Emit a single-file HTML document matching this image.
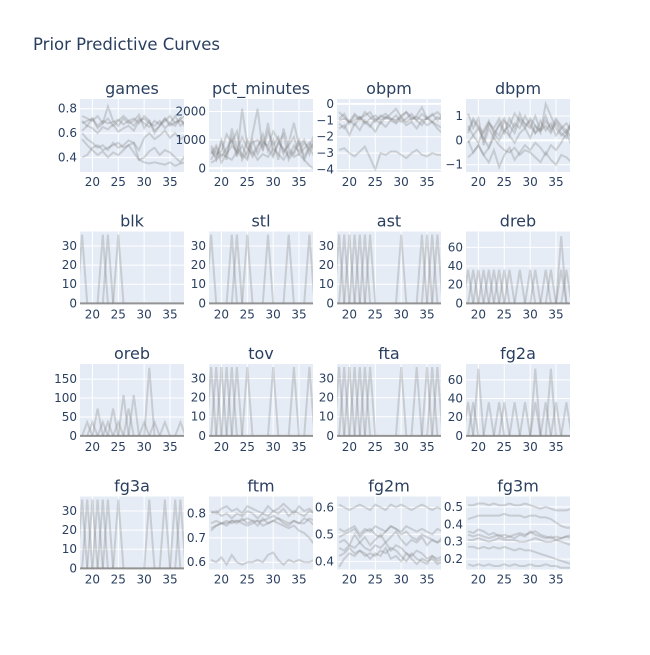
<!DOCTYPE html>
<html><head><meta charset="utf-8">
<style>
body{margin:0;background:#fff;}
svg text{font-family:"DejaVu Sans","Liberation Sans",sans-serif;fill:#2a3f5f;}
</style></head>
<body>
<svg id="chart" width="650" height="650" viewBox="0 0 650 650" xmlns="http://www.w3.org/2000/svg">
<text x="33" y="50" font-size="16.5">Prior Predictive Curves</text>
</svg>
<script>
const ages = [18,19,20,21,22,23,24,25,26,27,28,29,30,31,32,33,34,35,36,37,38];
const panelNames = ["games","pct_minutes","obpm","dbpm","blk","stl","ast","dreb","oreb","tov","fta","fg2a","fg3a","ftm","fg2m","fg3m"];
const yRanges = [[0.28,0.88],[-130,2440],[-4.15,0.3],[-1.3,1.7],[-0.6,37.6],[-0.6,37.6],[-0.6,37.6],[-1.2,77],[-3,190],[-0.6,37.6],[-0.6,37.6],[-1.2,77],[-0.6,37.6],[0.57,0.87],[0.37,0.64],[0.14,0.56]];
const yTicks = [[0.4,0.6,0.8],[0,1000,2000],[-4,-3,-2,-1,0],[-1,0,1],[0,10,20,30],[0,10,20,30],[0,10,20,30],[0,20,40,60],[0,50,100,150],[0,10,20,30],[0,10,20,30],[0,20,40,60],[0,10,20,30],[0.6,0.7,0.8],[0.4,0.5,0.6],[0.2,0.3,0.4,0.5]];
const xTicks = [20,25,30,35];

const gamesSeries = [
[.68,.70,.72,.66,.70,.68,.69,.71,.67,.70,.66,.72,.68,.65,.70,.67,.72,.66,.69,.70,.68],
[.70,.66,.72,.64,.68,.82,.70,.66,.72,.68,.70,.75,.64,.70,.60,.66,.72,.68,.74,.66,.70],
[.62,.66,.64,.60,.65,.63,.67,.61,.64,.66,.62,.70,.72,.68,.66,.70,.64,.68,.66,.72,.64],
[.60,.55,.52,.48,.50,.46,.52,.48,.50,.54,.52,.46,.56,.60,.55,.58,.62,.56,.60,.55,.58],
[.55,.50,.46,.42,.45,.40,.44,.42,.46,.50,.44,.38,.40,.45,.48,.42,.46,.44,.40,.36,.42],
[.40,.42,.48,.50,.46,.48,.50,.52,.48,.50,.52,.38,.36,.35,.36,.35,.34,.36,.33,.35,.36],
[.74,.72,.70,.74,.68,.72,.66,.70,.74,.70,.72,.68,.74,.70,.62,.66,.70,.74,.68,.72,.74]];
const minutesSeries = [
[600,400,900,300,1400,700,500,300,900,1000,700,1600,500,900,1200,300,600,1000,400,800,1200],
[300,700,200,500,1100,400,2100,800,400,700,1200,600,1000,300,1400,700,500,900,300,700,900],
[800,500,600,1200,900,1300,300,600,1000,500,900,800,1300,1000,600,800,1100,500,700,900,600],
[200,300,500,400,300,600,400,1000,600,300,500,400,700,500,300,600,400,500,300,100,-50],
[500,800,400,700,1000,500,800,400,1200,2100,600,1300,800,1100,500,900,1600,800,1000,500,1100],
[700,300,1000,500,800,600,1100,700,500,800,1000,700,400,900,700,400,800,600,900,700,400]];
const obpmSeries = [
[-.9,-.6,-1.2,-.7,-1.0,-.5,-.8,-1.1,-.7,-.9,-.6,-.3,-.8,-.5,-1.0,-.7,-.2,-.9,-.6,-1.0,-.7],
[-1.2,-1.5,-1.0,-1.3,-.8,-1.1,-1.4,-.9,-1.2,-.8,-1.0,-.7,-1.1,-.9,-.6,-1.0,-1.3,-.8,-1.1,-1.3,-1.5],
[-.5,-.8,-1.1,-.6,-.9,-.7,-.5,-1.0,-.8,-.6,-.9,-1.1,-.7,-.5,-.8,-1.0,-.6,-.9,-.7,-.5,-.8],
[-1.5,-1.3,-1.9,-1.2,-1.6,-1.0,-1.3,-1.7,-1.1,-1.4,-1.0,-1.2,-.9,-1.3,-1.1,-1.5,-1.0,-1.3,-1.1,-1.5,-1.8],
[-1.0,-.9,-1.1,-1.0,-.8,-1.2,-.9,-.7,-1.0,-.8,-.9,-1.0,-.8,-1.1,-.9,-.8,-1.0,-.9,-1.1,-.8,-1.0],
[-2.8,-2.7,-3.0,-3.2,-2.9,-2.6,-3.3,-4.0,-3.0,-3.1,-2.9,-2.9,-3.1,-3.3,-3.0,-2.8,-3.1,-3.2,-3.0,-3.1,-3.1]];
const dbpmSeries = [
[.6,.2,-.1,.4,.8,.3,.6,.9,.2,.7,.5,1.0,.6,.3,.8,.4,.7,.2,.5,.3,.6],
[1.1,.5,.9,-.2,.5,.1,.7,.3,.9,.5,1.1,.6,.8,.3,.5,1.0,.4,.7,.3,.1,.9],
[.3,.8,.5,.0,.7,.4,.2,.8,.6,.3,.9,.7,.5,1.0,.4,.6,.3,.8,.5,.7,.4],
[-.1,.2,.5,.1,-.3,.3,.0,.4,.2,-.1,.3,.5,.1,.6,.3,1.5,1.0,.5,.2,.4,.1],
[-.7,-.5,-.2,-.6,-.3,.1,-.2,-.4,-.5,-.3,-.6,-.4,-.5,-.7,-.9,-.5,-.8,-1.0,-.6,-.7,-.9],
[.0,-.5,-.2,-.6,-.9,-.4,-1.1,-.6,-.3,-.8,-.5,-.2,-.4,-.1,-.3,-.6,-.2,-.4,-.1,.3,-.2],
[.4,.9,.6,.3,.7,.5,.9,.4,.6,1.1,.8,.5,.9,.6,.4,.8,.5,.9,.6,.4,.7]];
const ftmSeries = [
[.81,.80,.82,.83,.81,.82,.80,.83,.82,.81,.80,.83,.81,.82,.84,.82,.80,.83,.81,.82,.80],
[.80,.81,.79,.80,.78,.80,.79,.81,.80,.78,.80,.79,.81,.80,.82,.79,.81,.80,.79,.81,.80],
[.76,.77,.76,.75,.77,.76,.78,.76,.77,.75,.78,.76,.77,.78,.76,.75,.77,.76,.78,.77,.75],
[.73,.75,.76,.77,.76,.77,.76,.75,.76,.77,.75,.76,.77,.76,.75,.74,.75,.73,.72,.70,.67],
[.74,.75,.76,.76,.77,.77,.77,.78,.77,.77,.77,.78,.79,.78,.77,.76,.77,.76,.76,.78,.77],
[.61,.60,.62,.59,.63,.60,.59,.60,.60,.61,.60,.63,.64,.61,.59,.61,.60,.61,.60,.60,.61]];
const fg2mSeries = [
[.61,.60,.59,.60,.61,.60,.59,.61,.60,.59,.61,.60,.61,.60,.59,.60,.61,.60,.59,.60,.59],
[.52,.51,.52,.53,.50,.52,.51,.53,.52,.51,.53,.52,.51,.53,.52,.51,.52,.51,.50,.52,.51],
[.49,.50,.51,.52,.49,.51,.52,.50,.49,.51,.53,.52,.50,.51,.49,.48,.50,.49,.48,.47,.48],
[.47,.48,.46,.50,.47,.49,.46,.48,.50,.47,.49,.51,.48,.46,.48,.47,.49,.46,.48,.47,.49],
[.45,.44,.46,.45,.47,.45,.44,.46,.45,.47,.44,.46,.45,.43,.42,.44,.43,.41,.42,.41,.42],
[.42,.43,.45,.43,.44,.42,.43,.42,.44,.43,.45,.44,.42,.40,.43,.41,.40,.39,.42,.40,.41],
[.38,.41,.43,.42,.44,.43,.41,.43,.42,.45,.41,.42,.40,.43,.41,.39,.41,.40,.41,.39,.40]];
const fg3mSeries = [
[.51,.51,.52,.52,.51,.52,.51,.51,.52,.51,.51,.52,.51,.50,.49,.50,.49,.48,.48,.48,.49],
[.43,.44,.45,.45,.45,.45,.45,.46,.45,.45,.45,.44,.45,.45,.44,.44,.43,.41,.39,.38,.38],
[.36,.35,.37,.36,.34,.35,.33,.34,.33,.34,.35,.34,.35,.36,.34,.33,.32,.33,.32,.33,.32],
[.34,.33,.34,.33,.32,.33,.34,.32,.33,.32,.34,.33,.36,.34,.33,.32,.33,.31,.32,.33,.34],
[.31,.31,.32,.31,.30,.31,.32,.31,.31,.31,.30,.30,.31,.32,.31,.30,.30,.31,.30,.29,.28],
[.27,.27,.26,.27,.26,.27,.26,.27,.26,.25,.26,.25,.25,.24,.23,.22,.21,.20,.19,.18,.17],
[.17,.16,.17,.16,.17,.16,.16,.17,.16,.17,.16,.16,.17,.16,.16,.17,.16,.16,.15,.15,.15]];

// spike panels: [peak age, peak value]
const blkSpikes = [[18,36],[22,36],[23,36],[25,36]];
const stlSpikes = [[18,36],[22,36],[23,36],[25,36],[29,36],[33,36],[37,36]];
const astSpikes = [[18,36],[19,36],[20,36],[21,36],[22,36],[23,36],[24,36],[30,36],[34,36],[35,36],[36,36],[37,36]];
const drebSpikes = [[18,36],[19,36],[20,36],[21,36],[22,36],[23,36],[24,36],[25,36],[26,36],[28,36],[30,36],[31,36],[33,36],[34,36],[36,72],[36,36],[37,36]];
const orebSpikes = [[19,36],[20,36],[21,72],[22,36],[23,36],[24,72],[25,36],[26,108],[27,72],[28,108],[30,36],[31,180],[32,36],[34,36],[37,36]];
const tovSpikes = [[18,36],[19,36],[20,36],[21,36],[22,36],[23,36],[25,36],[30,36],[34,36],[37,36]];
const ftaSpikes = [[18,36],[19,36],[20,36],[21,36],[22,36],[23,36],[24,36],[30,36],[33,36],[35,36],[36,36],[37,36]];
const fg2aSpikes = [[18,36],[19,36],[20,72],[22,36],[24,36],[25,36],[27,36],[29,36],[31,72],[31,36],[33,36],[34,72],[35,36],[37,36]];
const fg3aSpikes = [[18,36],[19,36],[20,36],[21,36],[22,36],[23,36],[25,36],[31,36],[34,36],[36,36],[37,36]];

const lineData = {games:gamesSeries,pct_minutes:minutesSeries,obpm:obpmSeries,dbpm:dbpmSeries,ftm:ftmSeries,fg2m:fg2mSeries,fg3m:fg3mSeries};
const spikeData = {blk:blkSpikes,stl:stlSpikes,ast:astSpikes,dreb:drebSpikes,oreb:orebSpikes,tov:tovSpikes,fta:ftaSpikes,fg2a:fg2aSpikes,fg3a:fg3aSpikes};

const NS = "http://www.w3.org/2000/svg";
const svg = document.getElementById("chart");
const colX = [80,209,337,466], rowY = [99,231.5,364,496.5], PW = 104, PH = 73;
const xMin = 17.6, xMax = 37.7;
function mk(tag, attrs, parent){const e=document.createElementNS(NS,tag);for(const k in attrs)e.setAttribute(k,attrs[k]);parent.appendChild(e);return e;}

panelNames.forEach((name, i) => {
  const x0 = colX[i%4], y0 = rowY[Math.floor(i/4)];
  const [ymin, ymax] = yRanges[i];
  const sx = v => x0 + (v - xMin) / (xMax - xMin) * PW;
  const sy = v => y0 + PH - (v - ymin) / (ymax - ymin) * PH;
  const g = mk("g", {}, svg);
  
  
  const clipId = "clip" + i;
  const cp = mk("clipPath", {id: clipId}, g);
  mk("rect", {x: x0, y: y0, width: PW, height: PH}, cp);
  const bg = mk("rect", {x: x0, y: y0, width: PW, height: PH, fill: "#e5ecf6"}, g);
  
  
  xTicks.forEach(t => {
    const gl = mk("line", {x1: sx(t), x2: sx(t), y1: y0, y2: y0+PH, stroke: "#fff", "stroke-width": 1}, g);
    
    
    const tl = mk("text", {x: sx(t), y: y0+PH+14, "font-size": 12, "text-anchor": "middle"}, g);
    
    
    tl.textContent = t;
  });
  yTicks[i].forEach(t => {
    const gl = mk("line", {x1: x0, x2: x0+PW, y1: sy(t), y2: sy(t), stroke: "#fff", "stroke-width": t===0 ? 2 : 1}, g);
    
    
    const tl = mk("text", {x: x0-3, y: sy(t)+4, "font-size": 12, "text-anchor": "end"}, g);
    
    
    tl.textContent = t < 0 ? "\u2212" + Math.abs(t) : t;
  });
  const lg = mk("g", {"clip-path": "url(#" + clipId + ")"}, g);
  if (lineData[name]) {
    lineData[name].forEach(series => {
      const pts = series.map((v, k) => sx(ages[k]).toFixed(1) + "," + sy(v).toFixed(1)).join(" ");
      const pl = mk("polyline", {points: pts, fill: "none", stroke: "rgba(128,128,128,0.3)", "stroke-width": 2}, lg);
      
      
    });
  } else {
    spikeData[name].forEach(sp => {
      const pts = [[sp[0]-1,0],[sp[0],sp[1]],[sp[0]+1,0]].map(p => sx(p[0]).toFixed(1)+","+sy(p[1]).toFixed(1)).join(" ");
      const pl = mk("polyline", {points: pts, fill: "none", stroke: "rgba(128,128,128,0.3)", "stroke-width": 2}, lg);
      
      
    });
    const base = mk("line", {x1: x0, x2: x0+PW, y1: sy(0), y2: sy(0), stroke: "rgba(128,128,128,0.85)", "stroke-width": 2}, lg);
    
    
  }
  const tt = mk("text", {x: x0 + PW/2, y: y0 - 5, "font-size": 16, "text-anchor": "middle"}, g);
  
  
  tt.textContent = name;
});
</script>
</body></html>
